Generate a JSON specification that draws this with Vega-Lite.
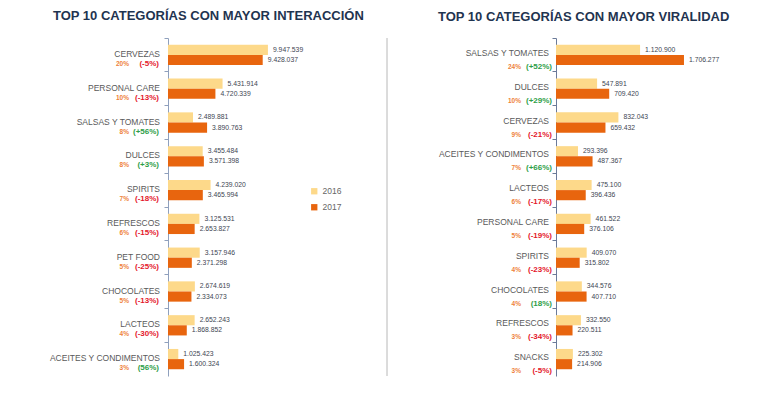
{
  "$schema": "https://vega.github.io/schema/vega-lite/v6.json",
  "padding": {"left": 49, "top": 10, "right": 5, "bottom": 5},
  "spacing": 49,
  "config": {
    "font": "Liberation Sans",
    "view": {"stroke": null},
    "locale": {"number": {"decimal": ",", "thousands": ".", "grouping": [3], "currency": ["$", ""]}}
  },
  "datasets": {
    "interaccion": [
      {"rank": 1, "category": "CERVEZAS", "2016": 9947539, "2017": 9428037, "share": "20%", "change": "(-5%)", "trend": "down"},
      {"rank": 2, "category": "PERSONAL CARE", "2016": 5431914, "2017": 4720339, "share": "10%", "change": "(-13%)", "trend": "down"},
      {"rank": 3, "category": "SALSAS Y TOMATES", "2016": 2489881, "2017": 3890763, "share": "8%", "change": "(+56%)", "trend": "up"},
      {"rank": 4, "category": "DULCES", "2016": 3455484, "2017": 3571398, "share": "8%", "change": "(+3%)", "trend": "up"},
      {"rank": 5, "category": "SPIRITS", "2016": 4239020, "2017": 3465994, "share": "7%", "change": "(-18%)", "trend": "down"},
      {"rank": 6, "category": "REFRESCOS", "2016": 3125531, "2017": 2653827, "share": "6%", "change": "(-15%)", "trend": "down"},
      {"rank": 7, "category": "PET FOOD", "2016": 3157946, "2017": 2371298, "share": "5%", "change": "(-25%)", "trend": "down"},
      {"rank": 8, "category": "CHOCOLATES", "2016": 2674619, "2017": 2334073, "share": "5%", "change": "(-13%)", "trend": "down"},
      {"rank": 9, "category": "LACTEOS", "2016": 2652243, "2017": 1868852, "share": "4%", "change": "(-30%)", "trend": "down"},
      {"rank": 10, "category": "ACEITES Y CONDIMENTOS", "2016": 1025423, "2017": 1600324, "share": "3%", "change": "(56%)", "trend": "up"}
    ],
    "viralidad": [
      {"rank": 1, "category": "SALSAS Y TOMATES", "2016": 1120900, "2017": 1706277, "share": "24%", "change": "(+52%)", "trend": "up"},
      {"rank": 2, "category": "DULCES", "2016": 547891, "2017": 709420, "share": "10%", "change": "(+29%)", "trend": "up"},
      {"rank": 3, "category": "CERVEZAS", "2016": 832043, "2017": 659432, "share": "9%", "change": "(-21%)", "trend": "down"},
      {"rank": 4, "category": "ACEITES Y CONDIMENTOS", "2016": 293396, "2017": 487367, "share": "7%", "change": "(+66%)", "trend": "up"},
      {"rank": 5, "category": "LACTEOS", "2016": 475100, "2017": 396436, "share": "6%", "change": "(-17%)", "trend": "down"},
      {"rank": 6, "category": "PERSONAL CARE", "2016": 461522, "2017": 376106, "share": "5%", "change": "(-19%)", "trend": "down"},
      {"rank": 7, "category": "SPIRITS", "2016": 409070, "2017": 315802, "share": "4%", "change": "(-23%)", "trend": "down"},
      {"rank": 8, "category": "CHOCOLATES", "2016": 344576, "2017": 407710, "share": "4%", "change": "(18%)", "trend": "up"},
      {"rank": 9, "category": "REFRESCOS", "2016": 332550, "2017": 220511, "share": "3%", "change": "(-34%)", "trend": "down"},
      {"rank": 10, "category": "SNACKS", "2016": 225302, "2017": 214906, "share": "3%", "change": "(-5%)", "trend": "down"}
    ]
  },
  "hconcat": [
    {
      "width": 221,
      "height": 338,
      "title": {"text": "TOP 10 CATEGORÍAS CON MAYOR INTERACCIÓN", "anchor": "start", "frame": "group", "dx": -115, "offset": 14, "fontSize": 13, "fontWeight": "bold", "color": "#1f3450"},
      "data": {"name": "interaccion"},
      "layer": [
        {
          "transform": [{"fold": ["2016", "2017"], "as": ["year", "value"]}],
          "mark": {"type": "bar"},
          "encoding": {
            "y": {"field": "category", "type": "nominal", "sort": {"field": "rank", "op": "min"}, "scale": {"paddingInner": 0.4, "paddingOuter": 0.2},
                  "axis": {"title": null, "labels": false, "tickSize": 4, "tickColor": "#8fa0bd", "domainColor": "#8fa0bd", "bandPosition": -0.333, "grid": false}},
            "yOffset": {"field": "year", "type": "nominal", "scale": {"paddingInner": 0, "paddingOuter": 0}},
            "x": {"field": "value", "type": "quantitative", "scale": {"domain": [0, 21800000]}, "axis": null},
            "color": {"field": "year", "type": "nominal", "scale": {"range": ["#FDD98A", "#E8650E"]},
                      "legend": {"title": null, "orient": "none", "legendX": 142, "legendY": 149, "symbolType": "square", "symbolSize": 40, "symbolStrokeWidth": 0, "labelFontSize": 8.5, "labelColor": "#666666", "rowPadding": 7}}
          }
        },
        {
          "transform": [{"fold": ["2016", "2017"], "as": ["year", "value"]}],
          "mark": {"type": "text", "align": "left", "baseline": "middle", "dx": 5, "fontSize": 6.8, "color": "#404552"},
          "encoding": {
            "y": {"field": "category", "type": "nominal", "sort": {"field": "rank", "op": "min"}},
            "yOffset": {"field": "year", "type": "nominal"},
            "x": {"field": "value", "type": "quantitative"},
            "text": {"field": "value", "type": "quantitative", "format": ",d"}
          }
        },
        {
          "mark": {"type": "text", "align": "right", "baseline": "middle", "dx": -8, "dy": -1, "fontSize": 8.5, "color": "#595959"},
          "encoding": {
            "y": {"field": "category", "type": "nominal", "sort": {"field": "rank", "op": "min"}},
            "x": {"datum": 0},
            "text": {"field": "category"}
          }
        },
        {
          "mark": {"type": "text", "align": "right", "baseline": "middle", "dx": -39, "dy": 9, "fontSize": 6.5, "fontWeight": "bold", "color": "#EE7F3B"},
          "encoding": {
            "y": {"field": "category", "type": "nominal", "sort": {"field": "rank", "op": "min"}},
            "x": {"datum": 0},
            "text": {"field": "share"}
          }
        },
        {
          "mark": {"type": "text", "align": "right", "baseline": "middle", "dx": -9, "dy": 9, "fontSize": 8, "fontWeight": "bold"},
          "encoding": {
            "y": {"field": "category", "type": "nominal", "sort": {"field": "rank", "op": "min"}},
            "x": {"datum": 0},
            "text": {"field": "change"},
            "color": {"condition": {"test": "datum.trend === 'up'", "value": "#2E9E48"}, "value": "#E4172B"}
          }
        },
        {
          "mark": {"type": "rule", "color": "#dcdcdc", "strokeWidth": 1.3},
          "encoding": {"x": {"datum": 21800000}}
        }
      ]
    },
    {
      "width": 180,
      "height": 338,
      "title": {"text": "TOP 10 CATEGORÍAS CON MAYOR VIRALIDAD", "anchor": "start", "frame": "group", "dx": -118, "offset": 14, "fontSize": 13, "fontWeight": "bold", "color": "#1f3450"},
      "data": {"name": "viralidad"},
      "layer": [
        {
          "transform": [{"fold": ["2016", "2017"], "as": ["year", "value"]}],
          "mark": {"type": "bar"},
          "encoding": {
            "y": {"field": "category", "type": "nominal", "sort": {"field": "rank", "op": "min"}, "scale": {"paddingInner": 0.4, "paddingOuter": 0.2},
                  "axis": {"title": null, "labels": false, "tickSize": 4, "tickColor": "#6b7a99", "domainColor": "#6b7a99", "bandPosition": -0.333, "grid": false}},
            "yOffset": {"field": "year", "type": "nominal", "scale": {"paddingInner": 0, "paddingOuter": 0}},
            "x": {"field": "value", "type": "quantitative", "scale": {"domain": [0, 2323000]}, "axis": null},
            "color": {"field": "year", "type": "nominal", "scale": {"range": ["#FDD98A", "#E8650E"]},
                      "legend": {"title": null, "orient": "none", "legendX": 142, "legendY": 147, "symbolType": "square", "symbolSize": 40, "symbolStrokeWidth": 0, "labelFontSize": 8.5, "labelColor": "#666666", "rowPadding": 7}}
          }
        },
        {
          "transform": [{"fold": ["2016", "2017"], "as": ["year", "value"]}],
          "mark": {"type": "text", "align": "left", "baseline": "middle", "dx": 5, "fontSize": 6.8, "color": "#404552"},
          "encoding": {
            "y": {"field": "category", "type": "nominal", "sort": {"field": "rank", "op": "min"}},
            "yOffset": {"field": "year", "type": "nominal"},
            "x": {"field": "value", "type": "quantitative"},
            "text": {"field": "value", "type": "quantitative", "format": ",d"}
          }
        },
        {
          "mark": {"type": "text", "align": "right", "baseline": "middle", "dx": -7, "dy": -2, "fontSize": 8.5, "color": "#595959"},
          "encoding": {
            "y": {"field": "category", "type": "nominal", "sort": {"field": "rank", "op": "min"}},
            "x": {"datum": 0},
            "text": {"field": "category"}
          }
        },
        {
          "mark": {"type": "text", "align": "right", "baseline": "middle", "dx": -35, "dy": 12, "fontSize": 6.5, "fontWeight": "bold", "color": "#EE7F3B"},
          "encoding": {
            "y": {"field": "category", "type": "nominal", "sort": {"field": "rank", "op": "min"}},
            "x": {"datum": 0},
            "text": {"field": "share"}
          }
        },
        {
          "mark": {"type": "text", "align": "right", "baseline": "middle", "dx": -4, "dy": 12, "fontSize": 8, "fontWeight": "bold"},
          "encoding": {
            "y": {"field": "category", "type": "nominal", "sort": {"field": "rank", "op": "min"}},
            "x": {"datum": 0},
            "text": {"field": "change"},
            "color": {"condition": {"test": "datum.trend === 'up'", "value": "#2E9E48"}, "value": "#E4172B"}
          }
        }
      ]
    }
  ]
}
